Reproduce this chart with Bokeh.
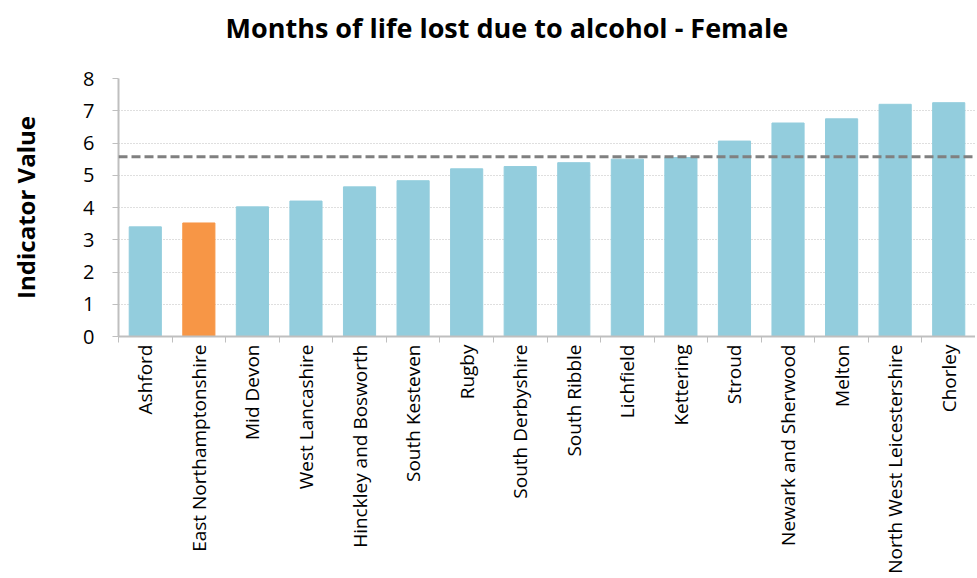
from bokeh.plotting import figure
from bokeh.models import Range1d, FixedTicker, Span, ColumnDataSource, Title
from bokeh.embed import file_html
from bokeh.resources import INLINE
import math

categories = ["Ashford", "East Northamptonshire", "Mid Devon", "West Lancashire",
              "Hinckley and Bosworth", "South Kesteven", "Rugby", "South Derbyshire",
              "South Ribble", "Lichfield", "Kettering", "Stroud", "Newark and Sherwood",
              "Melton", "North West Leicestershire", "Chorley"]
values = [3.40, 3.52, 4.02, 4.20, 4.64, 4.83, 5.20, 5.27, 5.39, 5.50, 5.55, 6.06,
          6.62, 6.75, 7.20, 7.25]
highlight = "East Northamptonshire"
benchmark = 5.57
y_ticks = [0, 1, 2, 3, 4, 5, 6, 7, 8]

BLUE = "#93CDDD"
ORANGE = "#F79646"
FONT = "Open Sans"

n = len(categories)
centers = [i + 0.5 for i in range(n)]
bounds = [i for i in range(n + 1)]
colors = [ORANGE if c == highlight else BLUE for c in categories]

src = ColumnDataSource(dict(x=centers, top=values, color=colors, name=categories))

p = figure(frame_width=857, frame_height=258, output_backend="svg", toolbar_location=None,
           x_range=Range1d(0, n), y_range=Range1d(0, 8),
           min_border_left=118, min_border_right=0, min_border_top=78,
           min_border_bottom=0)
p.outline_line_color = None
p.title = None

# spacer between the frame and the title
spacer = Title(text=" ", text_font_size="2px", standoff=29)
p.add_layout(spacer, "above")

t = Title(text="Months of life lost due to alcohol - Female", align="left",
          text_font=FONT, text_font_size="27px", text_font_style="bold",
          text_color="#000000", offset=107, standoff=0)
p.add_layout(t, "above")

p.vbar(x="x", top="top", width=0.6, bottom=0, fill_color="color",
       line_color="color", source=src)

p.add_layout(Span(location=benchmark, dimension="width", line_color="#808080",
                  line_width=3, line_dash="9 4"))

# x axis
xa = p.xaxis[0]
xa.ticker = FixedTicker(ticks=centers, minor_ticks=bounds)
xa.major_label_overrides = {c: name for c, name in zip(centers, categories)}
xa.major_label_orientation = math.pi / 2
xa.major_label_text_font = FONT
xa.major_label_text_font_size = "19px"
xa.major_label_text_color = "#000000"
xa.major_tick_out = 0
xa.major_tick_in = 0
xa.minor_tick_out = 6
xa.minor_tick_in = 0
xa.minor_tick_line_color = "#BFBFBF"
xa.axis_line_color = "#BFBFBF"
xa.axis_line_width = 2
xa.major_label_standoff = 2

# y axis
ya = p.yaxis[0]
ya.ticker = FixedTicker(ticks=y_ticks)
ya.axis_label = "Indicator Value"
ya.axis_label_text_font = FONT
ya.axis_label_text_font_size = "24px"
ya.axis_label_text_font_style = "bold"
ya.axis_label_text_color = "#000000"
ya.axis_label_standoff = 38
ya.major_label_text_font = FONT
ya.major_label_text_font_size = "20px"
ya.major_label_text_color = "#000000"
ya.major_tick_out = 6
ya.major_tick_in = 0
ya.minor_tick_line_color = None
ya.major_tick_line_color = "#BFBFBF"
ya.axis_line_color = "#BFBFBF"
ya.axis_line_width = 2
ya.major_label_standoff = 18

p.xgrid.grid_line_color = None
p.ygrid.grid_line_color = "#BFBFBF"
p.ygrid.grid_line_dash = "1 2"
p.ygrid.grid_line_width = 1

open("out.html", "w").write(file_html(p, INLINE))
